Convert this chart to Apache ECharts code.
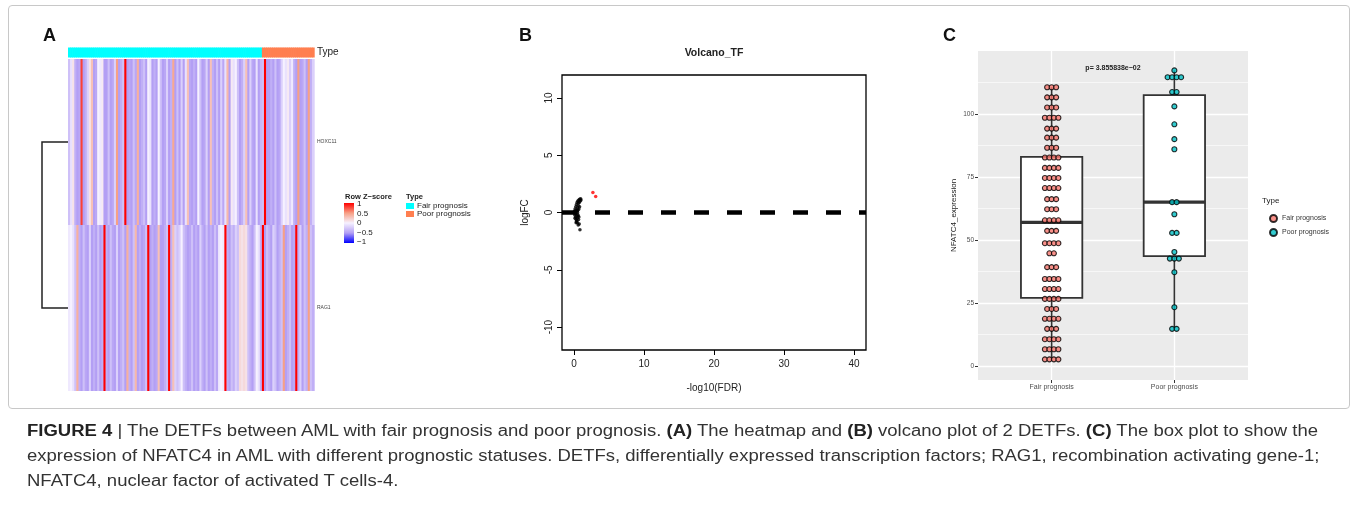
<!DOCTYPE html>
<html lang="en">
  <head>
    <meta charset="UTF-8" />
    <title>DETFs figure</title>
    <style>
      html,
      body {
        margin: 0;
        padding: 0;
        background: #fff;
      }
      #wrap {
        position: relative;
        width: 1357px;
        height: 507px;
        overflow: hidden;
      }
      #main {
        position: absolute;
        left: 0;
        top: 0;
        width: 1357px;
        height: 507px;
      }
      #frame {
        position: absolute;
        left: 8px;
        top: 5px;
        width: 1340px;
        height: 402px;
        border: 1px solid #c8c8c8;
        border-radius: 4px;
        pointer-events: none;
      }
      #caption {
        position: absolute;
        left: 27px;
        top: 418px;
        font-family: "Liberation Sans Narrow", "Arial Narrow", "Liberation Sans", Arial, sans-serif;
        font-size: 16px;
        line-height: 25px;
        color: #333;
        white-space: nowrap;
        transform-origin: 0 0;
      }
      #caption b {
        color: #222;
      }
    </style>
  </head>
  <body>
    <div id="wrap">
      <div id="main"></div>
      <div id="frame"></div>
      <div id="caption">
        <div id="cap1"><span><b>FIGURE 4</b> | The DETFs between AML with fair prognosis and poor prognosis. <b>(A)</b> The heatmap and <b>(B)</b> volcano plot of 2 DETFs. <b>(C)</b> The box plot to show the</span></div>
        <div><span>expression of NFATC4 in AML with different prognostic statuses. DETFs, differentially expressed transcription factors; RAG1, recombination activating gene-1;</span></div>
        <div><span>NFATC4, nuclear factor of activated T cells-4.</span></div>
      </div>
    </div>
    <script src="https://cdn.jsdelivr.net/npm/echarts@6/dist/echarts.min.js"></script>

    <script>
      // ---------- A: heatmap (row z-scores per sample) ----------
      const heatGenes = ["RAG1", "HOXC11"];
      const fairCount = 93;
      const poorCount = 25;
      const hoxc11Z = [
        -0.3, -0.1, 0.1, -0.4, -0.5, -0.45, 0.8, -0.5, -0.4, -0.2,
        0.1, 0.3, -0.5, -0.45, 0.0, -0.05, 0.05, -0.5, -0.5, -0.3,
        -0.5, -0.45, -0.2, 0.5, -0.5, -0.4, -0.3, 1.0, -0.5, -0.45,
        -0.5, -0.3, -0.45, 0.4, -0.5, -0.4, -0.3, -0.5, 0.0, -0.1,
        -0.5, -0.4, -0.5, 0.0, -0.3, -0.5, -0.45, -0.2, -0.5, -0.4,
        0.45, -0.5, -0.3, -0.5, -0.2, -0.5, -0.1, 0.3, -0.45, -0.5,
        -0.4, -0.5, 0.0, -0.3, -0.5, -0.45, -0.2, -0.5, 0.3, -0.4,
        -0.5, -0.3, -0.5, -0.2, -0.45, -0.1, 0.35, -0.5, 0.05, -0.1,
        0.0, -0.3, -0.5, -0.4, -0.2, 0.3, -0.5, -0.2, -0.45, -0.5,
        -0.1, -0.5, -0.35, -0.3, 1.0, -0.5, -0.5, -0.4, -0.5, -0.3,
        -0.5, -0.45, -0.2, 0.0, -0.1, 0.05, -0.2, -0.05, -0.4, -0.5,
        0.5, -0.5, -0.45, -0.3, -0.5, 0.5, -0.4, -0.2
      ];
      const rag1Z = [
        -0.05, 0.0, -0.1, -0.3, 0.4, -0.4, -0.5, -0.3, -0.45, -0.5,
        -0.2, -0.5, -0.4, -0.5, -0.3, -0.5, -0.4, 1.0, -0.4, -0.5,
        -0.3, -0.45, -0.5, -0.2, -0.5, -0.4, -0.3, -0.5, 0.4, -0.4,
        -0.5, -0.3, 0.35, -0.5, -0.4, -0.5, -0.45, -0.3, 1.0, -0.5,
        -0.4, -0.5, -0.45, 0.3, -0.5, -0.5, -0.4, -0.3, 1.0, -0.4,
        0.3, -0.2, -0.3, -0.2, 0.0, -0.3, -0.4, -0.5, -0.45, -0.3,
        -0.5, -0.4, -0.5, -0.2, -0.4, -0.5, -0.3, -0.5, -0.4, -0.5,
        -0.3, -0.45, -0.05, 0.0, -0.05, 1.0, -0.4, -0.5, -0.3, -0.4,
        -0.2, -0.3, 0.15, 0.1, 0.15, 0.1, -0.3, -0.4, -0.5, -0.3,
        0.0, -0.1, -0.4, 1.0, -0.5, -0.3, -0.4, -0.5, -0.2, -0.3,
        -0.5, -0.4, -0.3, 0.5, -0.5, -0.4, -0.3, -0.5, -0.45, 1.0,
        -0.4, -0.2, -0.5, -0.3, -0.4, 0.5, -0.3, -0.4
      ];
      const zColors = ["#0000ff", "#b39ff4", "#f6f1ff", "#f7a085", "#ff0000"];
      const zTicks = ["1", "0.5", "0", "\u22120.5", "\u22121"];
      const typeColors = { fair: "#00ffff", poor: "#ff7f50" };

      // ---------- B: volcano ----------
      const volcanoBlack = [
        [0.05, 0.1], [0.1, -0.2], [0.15, 0.3], [0.2, -0.4], [0.25, 0.5],
        [0.3, -0.6], [0.3, 0.2], [0.35, -0.8], [0.35, 0.7], [0.4, 0.1],
        [0.4, -0.3], [0.45, 0.9], [0.45, -0.5], [0.5, 0.4], [0.5, -0.9],
        [0.55, 1.0], [0.55, -0.2], [0.6, 0.6], [0.6, -1.1], [0.65, 0.8],
        [0.65, -0.6], [0.7, 1.1], [0.7, 0.3], [0.75, -1.0], [0.75, 0.9],
        [0.8, 1.15], [0.8, 0.5], [0.85, -1.5], [0.9, 1.0], [0.95, 1.2],
        [1.0, 1.1], [0.2, 0.0], [0.25, -0.1], [0.1, 0.05], [0.15, -0.5],
        [0.3, -0.9], [0.4, -0.7], [0.55, 0.2], [0.6, -0.3], [0.7, -0.4],
        [0.5, 0.0], [0.45, 0.15]
      ];
      const volcanoRed = [[2.7, 1.75], [3.1, 1.4]];
      const volcanoXTicks = [0, 10, 20, 30, 40];
      const volcanoYTicks = [-10, -5, 0, 5, 10];

      // ---------- C: box + dot plot ----------
      const boxCats = ["Fair prognosis", "Poor prognosis"];
      // [x, lower whisker, Q1, median, Q3, upper whisker]
      const boxStats = [
        [1, 2.6, 27, 57, 83, 110.6],
        [2, 14.7, 43.6, 65, 107.5, 117.3]
      ];
      // [binned value, dots in the bin]
      const fairRows = [
        [110.6, 3], [106.6, 3], [102.6, 3], [98.5, 4], [94.2, 3], [90.6, 3],
        [86.6, 3], [82.7, 4], [78.6, 4], [74.6, 4], [70.6, 4], [66.2, 3],
        [62.2, 3], [57.8, 4], [53.6, 3], [48.7, 4], [44.7, 2], [39.2, 3],
        [34.5, 4], [30.5, 4], [26.6, 4], [22.6, 3], [18.7, 4], [14.7, 3],
        [10.6, 4], [6.6, 4], [2.6, 4]
      ];
      const poorRows = [
        [117.3, 1], [114.6, 4], [108.7, 2], [103, 1], [95.9, 1], [90, 1],
        [86, 1], [65, 2], [60.2, 1], [52.8, 2], [45.2, 1], [42.6, 3],
        [37.2, 1], [23.3, 1], [14.7, 2]
      ];
      const boxYTicks = [0, 25, 50, 75, 100];
      const boxYMinor = [12.5, 37.5, 62.5, 87.5, 112.5];

      const font = "Liberation Sans, Arial, sans-serif";
      const sampleCount = fairCount + poorCount;
      const samples = [];
      for (let i = 0; i < sampleCount; i++) samples.push("S" + (i + 1));

      const heatData = [];
      for (let i = 0; i < sampleCount; i++) {
        heatData.push([i, 0, rag1Z[i]]);
        heatData.push([i, 1, hoxc11Z[i]]);
      }
      const typeData = samples.map((s, i) => [i, 0, i < fairCount ? 0 : 1]);

      // cells drawn a touch wider than their band so no seams show between columns
      const cellItem = (colorOf) =>
        function (params, api) {
          const p = api.coord([api.value(0), api.value(1)]);
          const size = api.size([1, 1]);
          return {
            type: "rect",
            shape: { x: p[0] - size[0] / 2, y: p[1] - size[1] / 2, width: size[0] + 0.7, height: size[1] },
            style: { fill: colorOf(api) }
          };
        };

      const dotStep = 4.5;
      const dotItems = (rows, xPos) => {
        const items = [];
        rows.forEach(([v, n]) => {
          for (let k = 0; k < n; k++) {
            items.push({ value: [xPos, v], symbolOffset: [(k - (n - 1) / 2) * dotStep, 0] });
          }
        });
        return items;
      };

      let chart = echarts.init(document.getElementById("main"));

      const gridLines = [];
      boxYTicks.forEach((v) => gridLines.push({ yAxis: v, lineStyle: { width: 1.3 } }));
      boxYMinor.forEach((v) => gridLines.push({ yAxis: v, lineStyle: { width: 0.6 } }));
      [1, 2].forEach((v) => gridLines.push({ xAxis: v, lineStyle: { width: 1.3 } }));

      const option = {
        animation: false,
        textStyle: { fontFamily: font },
        visualMap: {
          type: "continuous",
          show: false,
          min: -1,
          max: 1,
          dimension: 2,
          seriesIndex: 0,
          inRange: { color: zColors }
        },
        legend: {
          data: boxCats,
          orient: "vertical",
          left: 1264,
          top: 209,
          itemWidth: 7,
          itemHeight: 7,
          itemGap: 5,
          icon: "circle",
          textStyle: { fontSize: 7, color: "#333" }
        },
        grid: [
          { left: 68, top: 59, width: 246, height: 332 },
          { left: 68, top: 47.5, width: 246, height: 10 },
          { left: 562, top: 75, width: 304, height: 275, show: true, borderColor: "#000", borderWidth: 1.3, backgroundColor: "transparent" },
          { left: 978, top: 51, width: 270, height: 329, show: true, borderWidth: 0, backgroundColor: "#ebebeb" }
        ],
        xAxis: [
          { type: "category", gridIndex: 0, data: samples, show: false },
          { type: "category", gridIndex: 1, data: samples, show: false },
          {
            type: "value",
            gridIndex: 2,
            min: -1.714,
            max: 41.714,
            axisLine: { show: false, onZero: false },
            axisTick: { customValues: volcanoXTicks, length: 5, lineStyle: { color: "#000" } },
            axisLabel: { customValues: volcanoXTicks, fontSize: 10, color: "#222", margin: 9 },
            splitLine: { show: false },
            name: "-log10(FDR)",
            nameLocation: "middle",
            nameGap: 33,
            nameTextStyle: { fontSize: 10, color: "#222" }
          },
          {
            type: "value",
            gridIndex: 3,
            min: 0.4,
            max: 2.6,
            axisLine: { show: false, onZero: false },
            axisTick: { customValues: [1, 2], length: 3, lineStyle: { color: "#333" } },
            axisLabel: { customValues: [1, 2], formatter: (v) => boxCats[Math.round(v) - 1], fontSize: 7, color: "#4d4d4d", margin: 4 },
            splitLine: { show: false }
          }
        ],
        yAxis: [
          {
            type: "category",
            gridIndex: 0,
            data: heatGenes,
            position: "right",
            axisLine: { show: false },
            axisTick: { show: false },
            axisLabel: { fontSize: 5, color: "#444", margin: 3 }
          },
          {
            type: "category",
            gridIndex: 1,
            data: ["Type"],
            position: "right",
            axisLine: { show: false },
            axisTick: { show: false },
            axisLabel: { fontSize: 10, color: "#222", margin: 3 }
          },
          {
            type: "value",
            gridIndex: 2,
            min: -12,
            max: 12,
            axisLine: { show: false, onZero: false },
            axisTick: { customValues: volcanoYTicks, length: 5, lineStyle: { color: "#000" } },
            axisLabel: { customValues: volcanoYTicks, rotate: 90, fontSize: 10, color: "#222", margin: 8 },
            splitLine: { show: false },
            name: "logFC",
            nameLocation: "middle",
            nameGap: 32,
            nameRotate: 90,
            nameTextStyle: { fontSize: 10, color: "#222" }
          },
          {
            type: "value",
            gridIndex: 3,
            min: -5.6,
            max: 125,
            axisLine: { show: false, onZero: false },
            axisTick: { customValues: boxYTicks, length: 3, lineStyle: { color: "#333" } },
            axisLabel: { customValues: boxYTicks, fontSize: 6.5, color: "#4d4d4d", margin: 4 },
            splitLine: { show: false },
            name: "NFATC4_expression",
            nameLocation: "middle",
            nameGap: 20,
            nameRotate: 90,
            nameTextStyle: { fontSize: 8, color: "#222" }
          }
        ],
        series: [
          {
            type: "custom",
            xAxisIndex: 0,
            yAxisIndex: 0,
            data: heatData,
            encode: { x: 0, y: 1 },
            silent: true,
            renderItem: cellItem((api) => api.visual("color"))
          },
          {
            type: "custom",
            xAxisIndex: 1,
            yAxisIndex: 1,
            data: typeData,
            encode: { x: 0, y: 1 },
            silent: true,
            renderItem: cellItem((api) => (api.value(2) === 0 ? typeColors.fair : typeColors.poor))
          },
          {
            type: "scatter",
            xAxisIndex: 2,
            yAxisIndex: 2,
            symbolSize: 3.5,
            itemStyle: { color: "#000" },
            data: volcanoBlack,
            markLine: {
              silent: true,
              symbol: "none",
              label: { show: false },
              lineStyle: { color: "#000", width: 4.5, type: [15, 18] },
              data: [{ yAxis: 0 }]
            }
          },
          {
            type: "scatter",
            xAxisIndex: 2,
            yAxisIndex: 2,
            symbolSize: 3.5,
            itemStyle: { color: "#ff0000" },
            data: volcanoRed
          },
          {
            type: "line",
            xAxisIndex: 3,
            yAxisIndex: 3,
            data: [],
            markLine: {
              silent: true,
              z: 1,
              symbol: "none",
              label: { show: false },
              lineStyle: { color: "#fff", type: "solid" },
              data: gridLines
            }
          },
          {
            type: "custom",
            xAxisIndex: 3,
            yAxisIndex: 3,
            z: 3,
            data: boxStats,
            encode: { x: 0, y: [1, 2, 3, 4, 5] },
            renderItem: function (params, api) {
              const x = api.value(0);
              const half = api.size([0.5, 0])[0] / 2;
              const pLo = api.coord([x, api.value(1)]);
              const pQ1 = api.coord([x, api.value(2)]);
              const pMed = api.coord([x, api.value(3)]);
              const pQ3 = api.coord([x, api.value(4)]);
              const pHi = api.coord([x, api.value(5)]);
              const stroke = "#333";
              return {
                type: "group",
                children: [
                  { type: "line", shape: { x1: pLo[0], y1: pLo[1], x2: pQ1[0], y2: pQ1[1] }, style: { stroke: stroke, lineWidth: 1.6 } },
                  { type: "line", shape: { x1: pQ3[0], y1: pQ3[1], x2: pHi[0], y2: pHi[1] }, style: { stroke: stroke, lineWidth: 1.6 } },
                  { type: "rect", shape: { x: pQ3[0] - half, y: pQ3[1], width: 2 * half, height: pQ1[1] - pQ3[1] }, style: { fill: "#fff", stroke: stroke, lineWidth: 1.8 } },
                  { type: "line", shape: { x1: pMed[0] - half, y1: pMed[1], x2: pMed[0] + half, y2: pMed[1] }, style: { stroke: stroke, lineWidth: 3.2 } }
                ]
              };
            }
          },
          {
            type: "scatter",
            name: "Fair prognosis",
            xAxisIndex: 3,
            yAxisIndex: 3,
            z: 4,
            symbolSize: 5,
            itemStyle: { color: "#f8766d", borderColor: "#000", borderWidth: 1.1 },
            data: dotItems(fairRows, 1)
          },
          {
            type: "scatter",
            name: "Poor prognosis",
            xAxisIndex: 3,
            yAxisIndex: 3,
            z: 4,
            symbolSize: 5,
            itemStyle: { color: "#00bfc4", borderColor: "#000", borderWidth: 1.1 },
            data: dotItems(poorRows, 2)
          }
        ],
        graphic: [
          { type: "text", left: 43, top: 27, style: { text: "A", font: "bold 18px " + font, fill: "#111" } },
          { type: "text", left: 519, top: 27, style: { text: "B", font: "bold 18px " + font, fill: "#111" } },
          { type: "text", left: 943, top: 27, style: { text: "C", font: "bold 18px " + font, fill: "#111" } },
          { type: "text", x: 714, y: 53, style: { text: "Volcano_TF", font: "bold 10.5px " + font, fill: "#222", textAlign: "center", textVerticalAlign: "middle" } },
          { type: "text", x: 1113, y: 68, style: { text: "p= 3.855838e\u221202", font: "bold 7px " + font, fill: "#222", textAlign: "center", textVerticalAlign: "middle" } },
          { type: "text", x: 1262, y: 201, style: { text: "Type", font: "8px " + font, fill: "#222", textVerticalAlign: "middle" } },
          // dendrogram
          { type: "polyline", shape: { points: [[68, 142], [42, 142], [42, 308], [68, 308]] }, style: { stroke: "#222", lineWidth: 1.5, fill: null } },
          // heatmap colour key
          { type: "text", x: 345, y: 197, style: { text: "Row Z\u2212score", font: "bold 7.5px " + font, fill: "#222", textVerticalAlign: "middle" } },
          {
            type: "rect",
            shape: { x: 344, y: 203, width: 10, height: 40 },
            style: {
              fill: new echarts.graphic.LinearGradient(0, 0, 0, 1, zColors.slice().reverse().map((c, i) => ({ offset: i / 4, color: c })))
            }
          },
          ...zTicks.map((t, i) => ({ type: "text", x: 357, y: 204 + i * 9.5, style: { text: t, font: "8px " + font, fill: "#222", textVerticalAlign: "middle" } })),
          { type: "text", x: 406, y: 197, style: { text: "Type", font: "bold 7.5px " + font, fill: "#222", textVerticalAlign: "middle" } },
          { type: "rect", shape: { x: 406, y: 203, width: 8, height: 6 }, style: { fill: typeColors.fair } },
          { type: "rect", shape: { x: 406, y: 211, width: 8, height: 6 }, style: { fill: typeColors.poor } },
          { type: "text", x: 417, y: 206, style: { text: "Fair prognosis", font: "8px " + font, fill: "#222", textVerticalAlign: "middle" } },
          { type: "text", x: 417, y: 214, style: { text: "Poor prognosis", font: "8px " + font, fill: "#222", textVerticalAlign: "middle" } }
        ]
      };
      chart.setOption(option);

      // squeeze the caption so its first line spans the same width as the source
      const cap = document.getElementById("caption");
      const w = document.querySelector("#cap1 span").getBoundingClientRect().width;
      cap.style.transform = "scaleX(" + (1291 / w).toFixed(4) + ")";
    </script>
  </body>
</html>
